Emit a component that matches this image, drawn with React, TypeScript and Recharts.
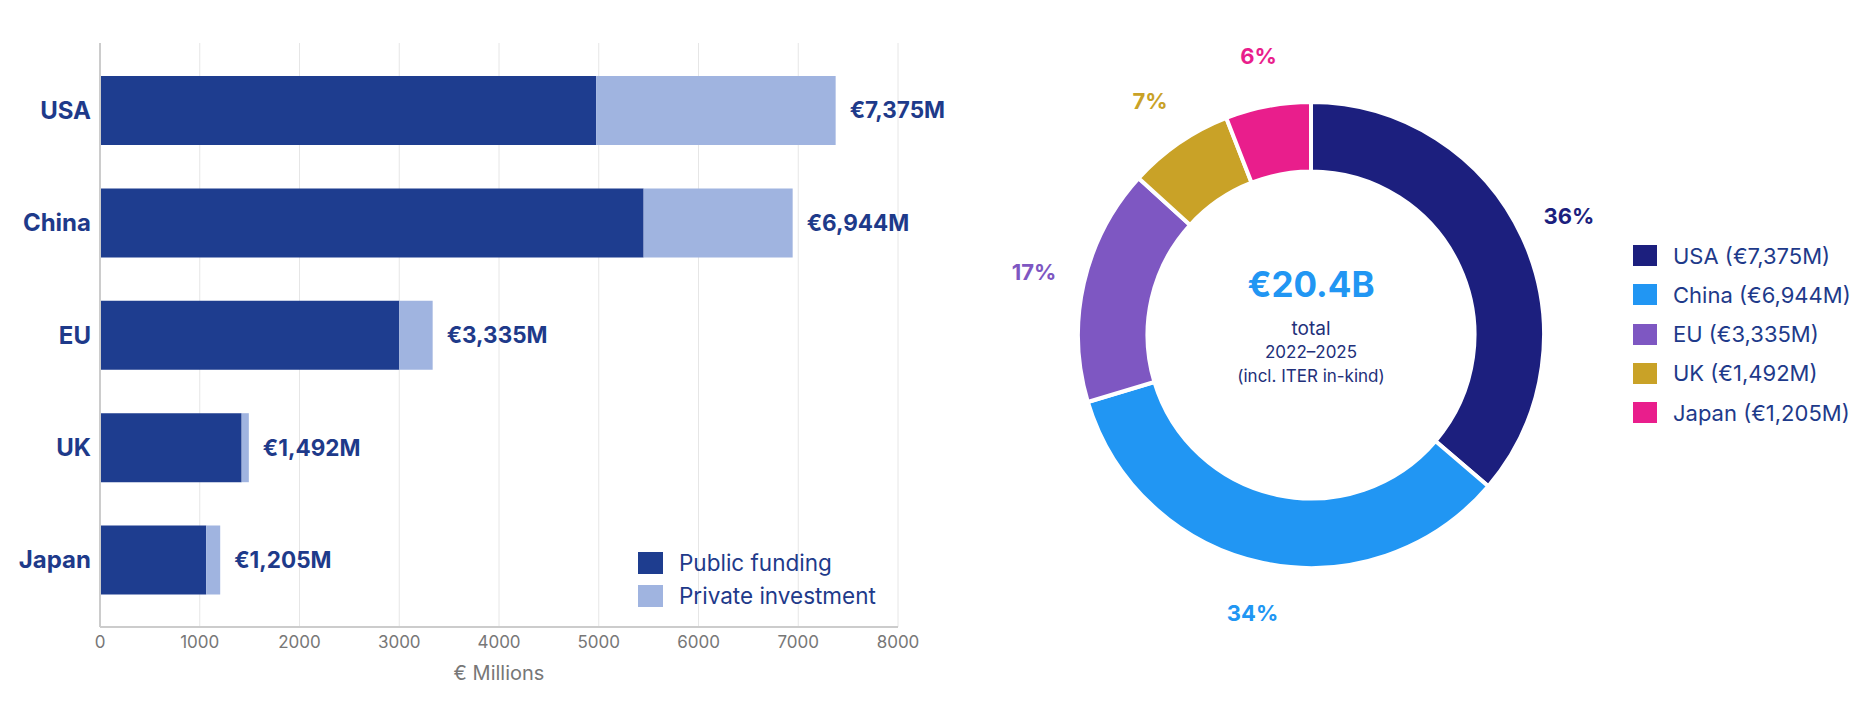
import React from 'react';
import {
  BarChart, Bar, XAxis, YAxis, CartesianGrid, LabelList, Legend,
  PieChart, Pie, Cell, Label,
} from 'recharts';

// ---- data ----
const categories = ['USA', 'China', 'EU', 'UK', 'Japan'];
const publicFunding = [4975, 5450, 3000, 1420, 1065];
const privateInvestment = [2400, 1494, 335, 72, 140];
const totals = [7375, 6944, 3335, 1492, 1205];
const xTicks = [0, 1000, 2000, 3000, 4000, 5000, 6000, 7000, 8000];
const barSeriesNames = ['Public funding', 'Private investment'];
const pieLabels = ['36%', '34%', '17%', '7%', '6%'];
const pieColors = ['#1C1F7E', '#2196F3', '#7E57C2', '#C9A227', '#E91E8C'];
const totalLabel = '€20.4B';
const centerLines = ['total', '2022–2025', '(incl. ITER in-kind)'];

const PUBLIC_COLOR = '#1E3D8F';
const PRIVATE_COLOR = '#A0B4E0';
const barSeriesColors = [PUBLIC_COLOR, PRIVATE_COLOR];
const TEXT_BLUE = '#1E3A8A';
const GREY = '#777777';

const PIE_CX = 351;
const PIE_CY = 335;

const fmtM = (v: number) => `€${v.toLocaleString('en-US')}M`;

const barData = categories.map((name, i) => ({
  name,
  publicFunding: publicFunding[i],
  privateInvestment: privateInvestment[i],
  total: totals[i],
}));

const pieData = categories.map((c, i) => ({
  name: `${c} (${fmtM(totals[i])})`,
  value: totals[i],
}));

const RADIAN = Math.PI / 180;

const renderPieLabel = (props: any) => {
  const { cx, cy, midAngle, outerRadius, index } = props;
  const r = outerRadius + 51;
  const x = cx + r * Math.cos(-midAngle * RADIAN);
  const y = cy + r * Math.sin(-midAngle * RADIAN);
  return (
    <text x={x} y={y} fill={pieColors[index]} textAnchor="middle" dominantBaseline="central"
      fontSize={22} fontWeight={700}>
      {pieLabels[index]}
    </text>
  );
};

const BarLegend = () => (
  <div>
    {barSeriesNames.map((n, i) => (
      <div key={n} style={{ display: 'flex', alignItems: 'center', height: 33 }}>
        <div style={{ width: 25, height: 22, background: barSeriesColors[i], marginRight: 16 }} />
        <span style={{ fontSize: 22.5, color: TEXT_BLUE, whiteSpace: 'nowrap' }}>{n}</span>
      </div>
    ))}
  </div>
);

const PieLegend = () => (
  <div>
    {pieData.map((d, i) => (
      <div key={d.name} style={{ display: 'flex', alignItems: 'center', height: 39.25 }}>
        <div style={{ width: 24, height: 21, background: pieColors[i], marginRight: 16 }} />
        <span style={{ fontSize: 22, color: TEXT_BLUE, whiteSpace: 'nowrap' }}>{d.name}</span>
      </div>
    ))}
  </div>
);

export default function App() {
  return (
    <div style={{
      position: 'absolute', left: 0, top: 0, width: 1874, height: 714, background: '#fff',
      fontFamily: 'Inter, "Noto Sans", sans-serif', overflow: 'hidden',
    }}>
      <div style={{ position: 'absolute', left: 0, top: 0 }}>
        <BarChart width={960} height={714} data={barData} layout="vertical"
          margin={{ top: 43, right: 62, bottom: 27, left: 0 }}>
          <CartesianGrid horizontal={false} vertical stroke="#E6E6E6" />
          <XAxis type="number" domain={[0, 8000]} ticks={xTicks} height={60}
            axisLine={{ stroke: '#CCCCCC', strokeWidth: 2 }} tickLine={false} tickSize={6} tickMargin={3}
            tick={{ fill: GREY, fontSize: 17 }} interval={0}>
            <Label value="€ Millions" position="insideBottom" offset={7} fill={GREY} fontSize={20} />
          </XAxis>
          <YAxis type="category" dataKey="name" width={100} padding={{ top: 11, bottom: 11 }}
            axisLine={{ stroke: '#CCCCCC', strokeWidth: 2 }} tickLine={false} tickSize={6} tickMargin={3}
            tick={{ fill: TEXT_BLUE, fontSize: 24, fontWeight: 700 }} />
          <Bar dataKey="publicFunding" name={barSeriesNames[0]} stackId="a" fill={PUBLIC_COLOR}
            barSize={69} isAnimationActive={false} />
          <Bar dataKey="privateInvestment" name={barSeriesNames[1]} stackId="a" fill={PRIVATE_COLOR}
            barSize={69} isAnimationActive={false}>
            <LabelList dataKey="total" position="right" offset={14} formatter={(v: any) => fmtM(Number(v))}
              fill={TEXT_BLUE} fontSize={22.5} fontWeight={700} />
          </Bar>
          <Legend layout="vertical" align="center" verticalAlign="middle" content={BarLegend}
            wrapperStyle={{ left: 638, top: 546, width: 'auto', height: 'auto' }} />
        </BarChart>
      </div>
      <div style={{ position: 'absolute', left: 960, top: 0 }}>
        <PieChart width={914} height={714} margin={{ top: 0, right: 0, bottom: 0, left: 0 }}>
          <Pie data={pieData} dataKey="value" nameKey="name" cx={PIE_CX} cy={PIE_CY}
            innerRadius={163.5} outerRadius={233} startAngle={90} endAngle={-270}
            stroke="#FFFFFF" strokeWidth={4} label={renderPieLabel} labelLine={false}
            isAnimationActive={false}>
            {pieData.map((d, i) => (
              <Cell key={d.name} fill={pieColors[i]} />
            ))}
          </Pie>
          <g>
            <text x={PIE_CX} y={PIE_CY - 38} textAnchor="middle" fill="#2196F3" fontSize={35} fontWeight={700}>
              {totalLabel}
            </text>
            {centerLines.map((t, i) => (
              <text key={t} x={PIE_CX} y={PIE_CY + (i === 0 ? 0 : i === 1 ? 23 : 47)} textAnchor="middle"
                fill="#22307A" fontSize={i === 0 ? 19 : 17}>
                {t}
              </text>
            ))}
          </g>
          <Legend layout="vertical" align="center" verticalAlign="middle" content={PieLegend}
            wrapperStyle={{ left: 673, top: 236, width: 'auto', height: 'auto' }} />
        </PieChart>
      </div>
    </div>
  );
}
